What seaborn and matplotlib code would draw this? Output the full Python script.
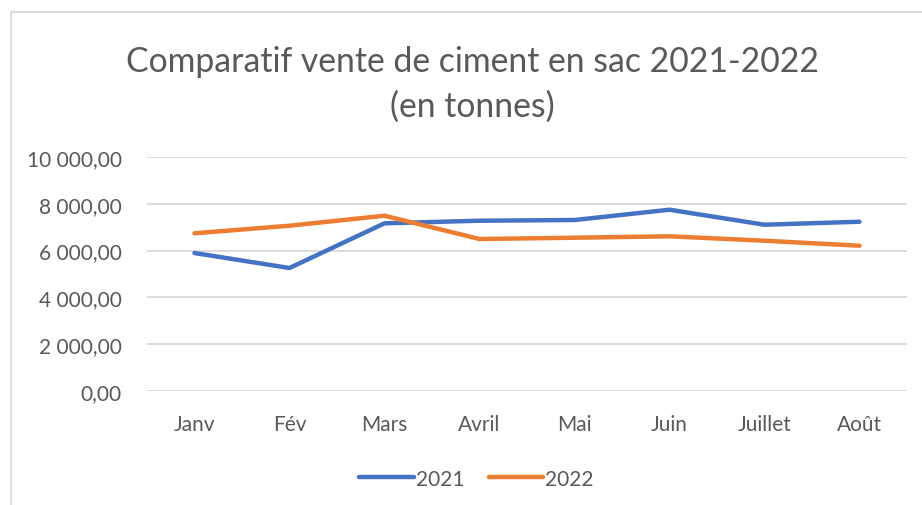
import pandas as pd
import matplotlib
matplotlib.use("Agg")
import matplotlib.pyplot as plt
import seaborn as sns
from matplotlib.ticker import FuncFormatter

months = ["Janv", "Fév", "Mars", "Avril", "Mai", "Juin", "Juillet", "Août"]
sales_2021 = [5895, 5256, 7161, 7272, 7302, 7741, 7101, 7229]
sales_2022 = [6735, 7059, 7485, 6492, 6547, 6607, 6419, 6206]
years = ["2021", "2022"]

df = pd.DataFrame({
    "mois": months * 2,
    "tonnes": sales_2021 + sales_2022,
    "annee": [years[0]] * len(months) + [years[1]] * len(months),
})
df["pos"] = list(range(len(months))) * 2

sns.set_style("white")
plt.rcParams["font.family"] = ["Lato", "DejaVu Sans"]
grey = "#595959"

fig = plt.figure(figsize=(9.22, 5.06), dpi=100)
ax = fig.add_axes([0.1594, 0.2247, 0.8243, 0.4636])

sns.lineplot(data=df, x="pos", y="tonnes", hue="annee", palette=["#4472C4", "#ED7D31"],
             linewidth=3.2, ax=ax, legend=False, solid_capstyle="round")

ax.set_xlim(-0.5, len(months) - 0.5)
ax.set_ylim(0, 10000)
ax.set_yticks(range(0, 10001, 2000))
ax.yaxis.set_major_formatter(FuncFormatter(lambda v, p: f"{v:,.2f}".replace(",", " ").replace(".", ",")))
ax.set_xticks(range(len(months)))
ax.set_xticklabels(months)
ax.tick_params(axis="both", length=0, labelsize=15, colors=grey)
ax.tick_params(axis="x", pad=16)
ax.tick_params(axis="y", pad=18)
ax.grid(axis="y", color="#D9D9D9", linewidth=1.3)
ax.set_axisbelow(True)
for s in ax.spines.values():
    s.set_visible(False)
ax.set_xlabel("")
ax.set_ylabel("")

fig.text(0.512, 0.833, "Comparatif vente de ciment en sac 2021-2022\n(en tonnes)",
         ha="center", va="center", fontsize=24.3, color=grey, linespacing=1.5)

handles = [plt.Line2D([], [], color=c, linewidth=3.2, solid_capstyle="round")
           for c in ["#4472C4", "#ED7D31"]]
fig.legend(handles, years, loc="center", bbox_to_anchor=(0.517, 0.052), ncol=2, frameon=False,
           fontsize=15, labelcolor=grey, handlelength=2.6, handletextpad=0.1, columnspacing=1.2)

# chart border (top and left, as in the cropped screenshot)
fig.add_artist(plt.Line2D([11 / 922, 1], [1 - 13 / 506, 1 - 13 / 506], color="#D9D9D9", linewidth=1.3))
fig.add_artist(plt.Line2D([11 / 922, 11 / 922], [0, 1 - 13 / 506], color="#D9D9D9", linewidth=1.3))

fig.savefig("out.png", dpi=100)
